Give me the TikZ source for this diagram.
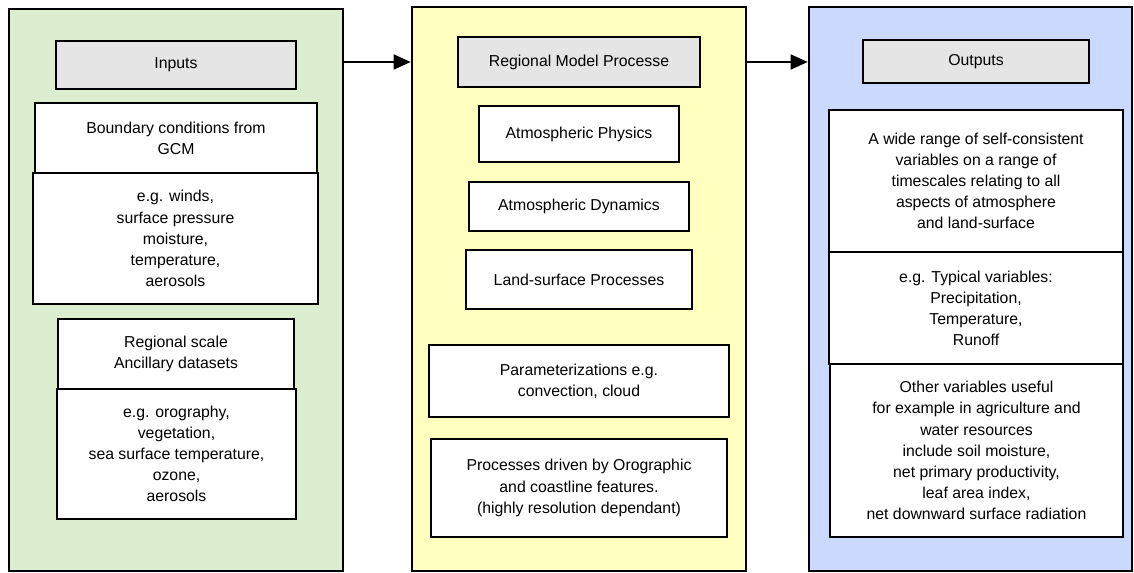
\documentclass[tikz,border=0pt]{standalone}
\usepackage{fontspec}
\setmainfont{Liberation Sans}
\usetikzlibrary{arrows.meta}
\definecolor{inGreen}{RGB}{221,237,207}
\definecolor{modYellow}{RGB}{255,255,192}
\definecolor{outBlue}{RGB}{203,217,255}
\definecolor{hdrGray}{RGB}{229,229,229}
\tikzset{
  sz/.style 2 args={minimum width=#1*0.02cm, minimum height=#2*0.02cm},
  panel/.style={draw, line width=1.5pt, inner sep=0pt},
  hdr/.style={draw, line width=1.5pt, fill=hdrGray, inner sep=0pt},
  blk/.style={draw, line width=1.3pt, fill=white, inner sep=0pt, align=center},
}
\begin{document}
\begin{tikzpicture}[x=0.02cm, y=-0.02cm, font=\fontsize{9}{12}\selectfont,
    >={Triangle[length=0.34cm,width=0.3cm]}]
  \useasboundingbox (0,0) rectangle (1134,573);
  % inputs
  \node[panel, fill=inGreen, sz={334}{562}] (In) at (176,290) {};
  \node[hdr, sz={240}{48}] (In_0) at (176,65) {Inputs};
  \node[blk, sz={282}{70}] (In_1) at (176,138) {Boundary conditions from\\GCM};
  \node[blk, sz={285}{131}] (In_2) at (175.5,238.5) {e.g. winds,\\surface pressure\\moisture,\\temperature,\\aerosols};
  \node[blk, sz={236}{70}] (In_3) at (176,354) {Regional scale\\Ancillary datasets};
  \node[blk, sz={239}{130}] (In_4) at (176.5,454) {e.g. orography,\\vegetation,\\sea surface temperature,\\ozone,\\aerosols};
  % regional model
  \node[panel, fill=modYellow, sz={334}{564}] (Mod) at (579,289) {};
  \node[hdr, sz={242}{50}] (Mod_0) at (579,62) {Regional Model Processe};
  \node[blk, sz={200}{56}] (Mod_1) at (579,134) {Atmospheric Physics};
  \node[blk, sz={220}{49}] (Mod_2) at (579,206.5) {Atmospheric Dynamics};
  \node[blk, sz={226}{59}] (Mod_3) at (579,279.5) {Land-surface Processes};
  \node[blk, sz={300}{72}] (Mod_4) at (579,381) {Parameterizations e.g.\\convection, cloud};
  \node[blk, sz={296}{98}] (Mod_5) at (579,488) {Processes driven by Orographic\\and coastline features.\\(highly resolution dependant)};
  % outputs
  \node[panel, fill=outBlue, sz={323}{564}] (Out) at (970.5,289) {};
  \node[hdr, sz={226}{43}] (Out_0) at (976,61.5) {Outputs};
  \node[blk, sz={294}{142}] (Out_1) at (976,181) {A wide range of self-consistent\\variables on a range of\\timescales relating to all\\aspects of atmosphere\\and land-surface};
  \node[blk, sz={294}{112}] (Out_2) at (976,308) {e.g. Typical variables:\\Precipitation,\\Temperature,\\Runoff};
  \node[blk, sz={293}{173}] (Out_3) at (976.5,450.5) {Other variables useful\\for example in agriculture and\\water resources\\include soil moisture,\\net primary productivity,\\leaf area index,\\net downward surface radiation};
  \path (In.east |- Mod_0) edge [->, line width=1pt] (Mod.west |- Mod_0);
  \path (Mod.east |- Mod_0) edge [->, line width=1pt] (Out.west |- Mod_0);
\end{tikzpicture}
\end{document}
